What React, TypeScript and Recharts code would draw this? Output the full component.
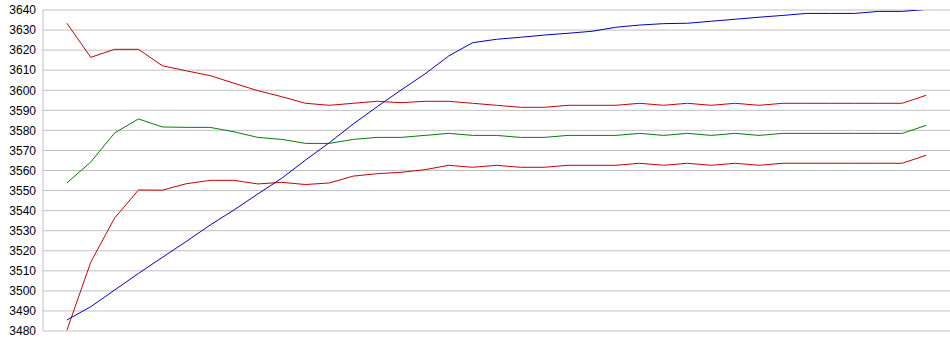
import React from "react";
import { LineChart, Line, XAxis, YAxis, CartesianGrid } from "recharts";

const steps: number[] = Array.from({ length: 37 }, (_, i) => i);

const upperRed: number[] = [
  3633.4, 3616.4, 3620.4, 3620.4, 3612.2, 3609.7, 3607.3, 3603.5, 3599.8, 3596.8,
  3593.5, 3592.5, 3593.5, 3594.5, 3593.8, 3594.5, 3594.5, 3593.5, 3592.5, 3591.5,
  3591.5, 3592.5, 3592.5, 3592.5, 3593.5, 3592.5, 3593.5, 3592.5, 3593.5, 3592.5,
  3593.5, 3593.5, 3593.5, 3593.5, 3593.5, 3593.5, 3597.5,
];

const middleGreen: number[] = [
  3553.8, 3564.2, 3578.7, 3585.7, 3581.7, 3581.5, 3581.5, 3579.3, 3576.5, 3575.5,
  3573.5, 3573.5, 3575.5, 3576.5, 3576.5, 3577.5, 3578.5, 3577.5, 3577.5, 3576.5,
  3576.5, 3577.5, 3577.5, 3577.5, 3578.5, 3577.5, 3578.5, 3577.5, 3578.5, 3577.5,
  3578.5, 3578.5, 3578.5, 3578.5, 3578.5, 3578.5, 3582.5,
];

const lowerRed: number[] = [
  3480.3, 3514.3, 3536.3, 3550.3, 3550.2, 3553.4, 3555.1, 3555.1, 3553.3, 3554.1,
  3553.0, 3553.8, 3557.2, 3558.4, 3559.1, 3560.4, 3562.6, 3561.6, 3562.6, 3561.6,
  3561.6, 3562.6, 3562.6, 3562.6, 3563.6, 3562.6, 3563.6, 3562.6, 3563.6, 3562.6,
  3563.6, 3563.6, 3563.6, 3563.6, 3563.6, 3563.6, 3567.6,
];

const blue: number[] = [
  3485.5, 3492.1, 3500.4, 3508.7, 3516.7, 3524.6, 3532.8, 3540.3, 3548.3, 3556.1,
  3565.2, 3573.9, 3583.2, 3591.8, 3600.1, 3608.1, 3617.1, 3623.7, 3625.4, 3626.4,
  3627.5, 3628.4, 3629.4, 3631.4, 3632.5, 3633.2, 3633.4, 3634.4, 3635.4, 3636.4,
  3637.3, 3638.3, 3638.3, 3638.3, 3639.3, 3639.3, 3640.3,
];

const yTicks: number[] = [
  3480, 3490, 3500, 3510, 3520, 3530, 3540, 3550, 3560, 3570, 3580, 3590, 3600,
  3610, 3620, 3630, 3640,
];

const data = steps.map((s, i) => ({
  step: s,
  upperRed: upperRed[i],
  middleGreen: middleGreen[i],
  lowerRed: lowerRed[i],
  blue: blue[i],
}));

export default function App() {
  return (
    <div style={{ position: "absolute", left: 0, top: 0, background: "#fff" }}>
      <LineChart
        width={950}
        height={355}
        data={data}
        margin={{ top: 10, right: 0, bottom: 24, left: 0 }}
      >
        <CartesianGrid vertical={false} stroke="#c0c0c0" strokeWidth={1} />
        <XAxis
          dataKey="step"
          type="number"
          domain={[-1, 37]}
          allowDataOverflow
          hide
        />
        <YAxis
          type="number"
          domain={[3480, 3640]}
          ticks={yTicks}
          allowDataOverflow
          interval={0}
          width={43}
          tickLine={false}
          tickSize={0}
          tickMargin={7}
          axisLine={{ stroke: "#c0c0c0" }}
          tick={{ fill: "#000", fontSize: 12, fontFamily: "Liberation Sans, Arial, sans-serif" }}
        />
        <Line type="linear" dataKey="upperRed" stroke="#cc0000" strokeWidth={1} dot={false} isAnimationActive={false} />
        <Line type="linear" dataKey="middleGreen" stroke="#008000" strokeWidth={1} dot={false} isAnimationActive={false} />
        <Line type="linear" dataKey="lowerRed" stroke="#cc0000" strokeWidth={1} dot={false} isAnimationActive={false} />
        <Line type="linear" dataKey="blue" stroke="#0000cc" strokeWidth={1} dot={false} isAnimationActive={false} />
      </LineChart>
    </div>
  );
}
